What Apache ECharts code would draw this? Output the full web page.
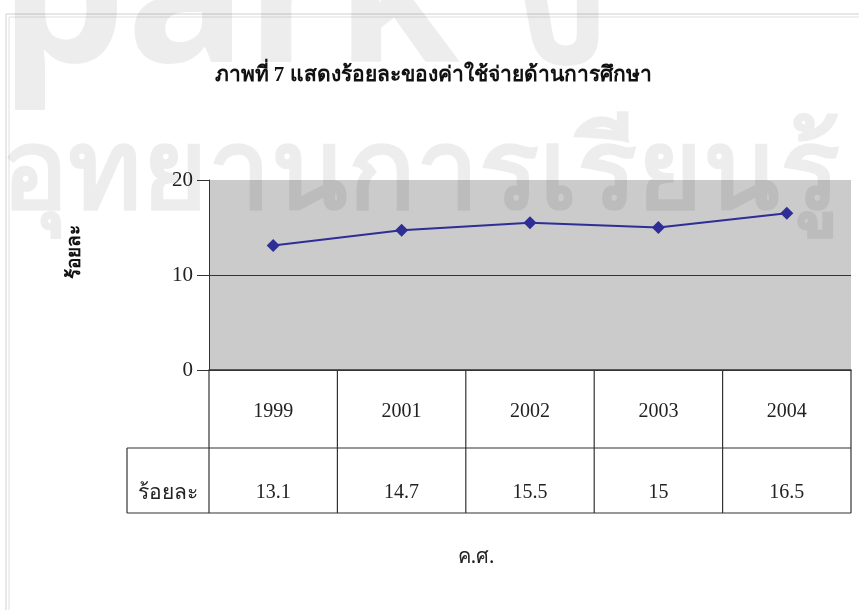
<!DOCTYPE html>
<html><head><meta charset="utf-8">
<script src="https://cdn.jsdelivr.net/npm/echarts@6/dist/echarts.min.js"></script>
<style>html,body{margin:0;padding:0;background:#fff}#c{width:859px;height:610px}</style>
</head><body><div id="c"></div>
<script>
const years = ['1999','2001','2002','2003','2004'];
const percent = [13.1, 14.7, 15.5, 15, 16.5];
const yTicks = [0, 10, 20];
const titleText = 'ภาพที่ 7 แสดงร้อยละของค่าใช้จ่ายด้านการศึกษา';
const yName = 'ร้อยละ';
const xName = 'ค.ศ.';
const rowLabel = 'ร้อยละ';

const serif = '"Liberation Serif","DejaVu Serif",serif';
const chart = echarts.init(document.getElementById('c'), null, {renderer:'canvas'});
chart.setOption({
  animation:false,
  backgroundColor:'#fff',
  title:{text:titleText,left:428,textAlign:'center',top:60,textStyle:{fontFamily:serif,fontSize:21,fontWeight:'bold',color:'#111'}},
  grid:{left:209,right:8,top:180,bottom:240,show:true,backgroundColor:'#cbcbcb',borderWidth:0},
  xAxis:{type:'category',data:years,boundaryGap:true,
    axisLine:{show:true,lineStyle:{color:'#333',width:1.5}},
    axisTick:{show:false},
    axisLabel:{margin:32,fontFamily:serif,fontSize:20,color:'#222'}},
  yAxis:{type:'value',min:yTicks[0],max:yTicks[yTicks.length-1],interval:10,
    axisLine:{show:true,lineStyle:{color:'#333',width:1}},
    axisTick:{show:true,length:12,lineStyle:{color:'#333'}},
    axisLabel:{margin:16,fontFamily:serif,fontSize:21,color:'#222'},
    splitLine:{show:true,showMaxLine:false,lineStyle:{color:'#333',width:1}}},
  series:[{type:'line',data:percent,symbol:'diamond',symbolSize:13,
    lineStyle:{color:'#2e2e96',width:2},itemStyle:{color:'#2e2e96'}}]
});

function drawTable(){
  const n = years.length;
  const y0 = chart.convertToPixel({yAxisIndex:0}, 0);
  const c0 = chart.convertToPixel({xAxisIndex:0}, 0);
  const c1 = chart.convertToPixel({xAxisIndex:0}, 1);
  const w = c1 - c0;
  const left = c0 - w/2, right = left + n*w;
  const rowH1 = 78, rowH2 = 65, labelW = 82;
  const yMid = y0 + rowH1, yBot = yMid + rowH2;
  const ls = {stroke:'#333',lineWidth:1.2};
  const els = [];
  for(let i=0;i<=n;i++){
    const x = left + i*w;
    els.push({type:'line',shape:{x1:x,y1:y0,x2:x,y2:yBot},style:ls});
  }
  els.push({type:'line',shape:{x1:left-labelW,y1:yMid,x2:right,y2:yMid},style:ls});
  els.push({type:'line',shape:{x1:left-labelW,y1:yBot,x2:right,y2:yBot},style:ls});
  els.push({type:'line',shape:{x1:left-labelW,y1:yMid,x2:left-labelW,y2:yBot},style:ls});
  els.push({type:'text',x:left-labelW/2,y:yMid+45,style:{text:rowLabel,font:'21px '+serif,fill:'#222',align:'center',verticalAlign:'middle'}});
  percent.forEach((v,i)=>{
    els.push({type:'text',x:chart.convertToPixel({xAxisIndex:0},i),y:yMid+45,style:{text:String(v),font:'20px '+serif,fill:'#222',align:'center',verticalAlign:'middle'}});
  });
  els.push({type:'text',x:476,y:yBot+44,style:{text:xName,font:'20px "Noto Sans",sans-serif',fill:'#222',align:'center',verticalAlign:'middle'}});
  // y axis name
  els.push({type:'text',x:75,y:252,rotation:Math.PI/2,style:{text:yName,font:'bold 19px '+serif,fill:'#111',align:'center',verticalAlign:'middle'}});
  // outer frame
  els.push({type:'rect',shape:{x:6,y:14,width:900,height:620},style:{fill:'none',stroke:'#d0d0d0',lineWidth:1},z:-1});
  els.push({type:'rect',shape:{x:9,y:17,width:900,height:620},style:{fill:'none',stroke:'#e0e0e0',lineWidth:1},z:-1});
  // watermark overlay
  els.push({type:'text',x:420,y:232,z:100,silent:true,style:{text:'อุทยานการเรียนรู้',font:'bold 112px "Noto Sans",sans-serif',fill:'rgba(0,0,0,0.07)',align:'center',verticalAlign:'bottom'}});
  els.push({type:'text',x:305,y:105,z:100,silent:true,style:{text:'park ง',font:'bold 200px "Noto Sans",sans-serif',fill:'rgba(0,0,0,0.07)',align:'center',verticalAlign:'bottom'}});
  chart.setOption({graphic:{elements:els}});
}
drawTable();
</script></body></html>
